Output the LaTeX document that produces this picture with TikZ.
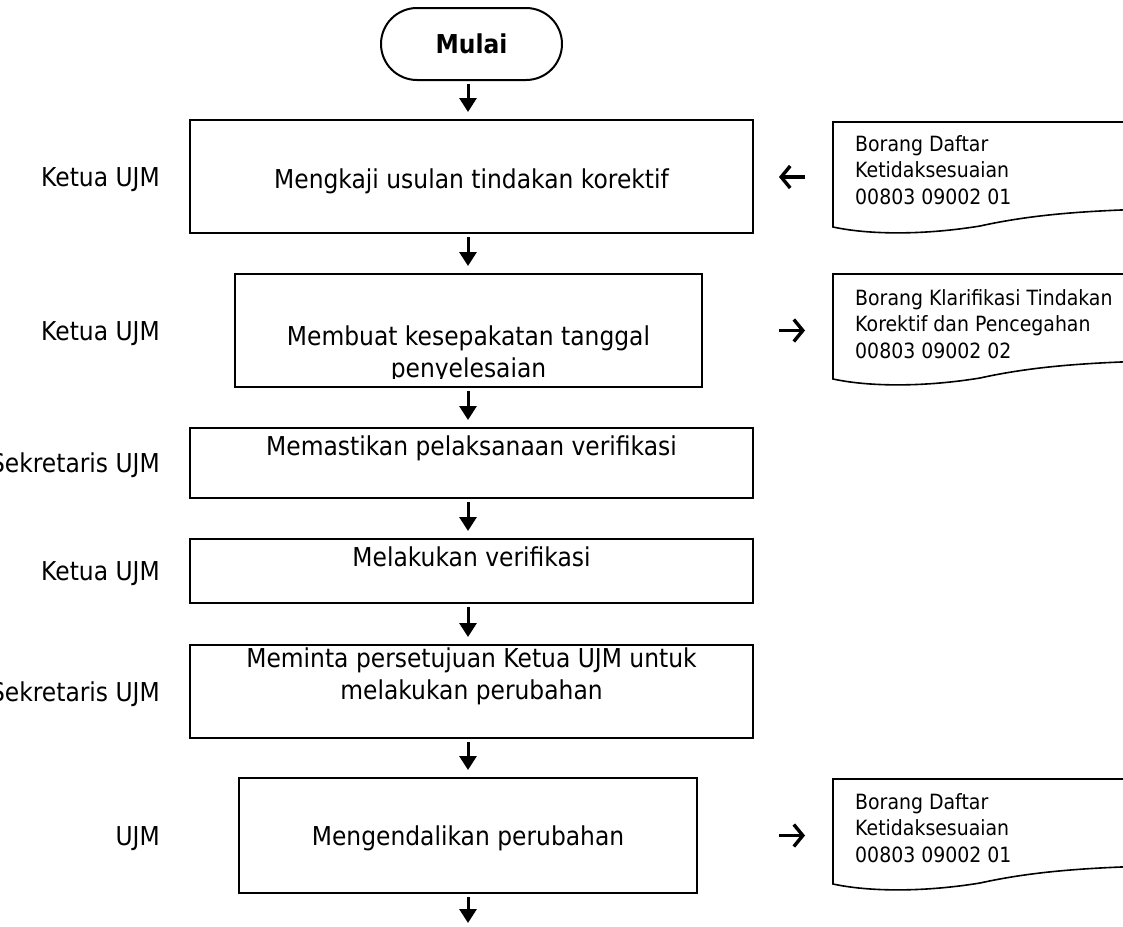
\documentclass[tikz,border=0pt]{standalone}
\usepackage{fontspec}
\setmainfont{DejaVu Sans}[FakeStretch=0.9]
\usetikzlibrary{arrows.meta}
\tikzset{
  wbox/.style={draw,line width=2pt,minimum width=563pt,inner sep=0pt},
  nbox/.style={draw,line width=2pt,minimum width=467pt,inner sep=0pt},
  terminal/.style={draw,line width=2pt,rounded corners=36pt,minimum width=181pt,minimum height=72pt,inner sep=0pt,font=\fontsize{26pt}{32pt}\selectfont\bfseries},
  txt/.style={anchor=base,align=center,inner sep=0pt,font=\fontsize{26pt}{32pt}\selectfont},
  who/.style={anchor=base east,inner sep=0pt,font=\fontsize{26pt}{32pt}\selectfont},
  doctxt/.style={anchor=base west,align=left,inner sep=0pt,font=\fontsize{21pt}{26.5pt}\selectfont},
  doc/.style={line width=1.6pt},
  flow/.style={line width=3pt,-{Triangle[length=14pt,width=17pt]},shorten <=3pt,shorten >=7pt},
  side/.style={line width=3.4pt,-{Straight Barb[length=9pt,width=22pt]}}
}
\begin{document}
\begin{tikzpicture}[x=1pt,y=-1pt]
  \useasboundingbox (0,0) rectangle (1123,926);
  \fill[white] (0,0) rectangle (1123,926);
  \clip (0,0) rectangle (1123,926);
  \coordinate (col) at (468,0);
  \coordinate (end) at (468,930);
  % langkah
  \node[terminal] (m) at (471.5,44) {Mulai};
  \node[wbox,minimum height=113pt] (k1) at (471.5,176.5) {};
  \node[nbox,minimum height=113pt] (k2) at (468.5,330.5) {};
  \node[wbox,minimum height=70pt] (k3) at (471.5,463) {};
  \node[wbox,minimum height=64pt] (k4) at (471.5,571) {};
  \node[wbox,minimum height=93pt] (k5) at (471.5,691.5) {};
  \node[nbox,minimum width=458pt,minimum height=115pt] (k6) at (468,835.5) {};
  \node[txt] (t1) at (471.5,188) {Mengkaji usulan tindakan korektif};
  \begin{scope}
    \clip (235,274) rectangle (702,378);
    \node[txt] (t2) at (468.5,377) {Membuat kesepakatan tanggal\\penyelesaian};
  \end{scope}
  \node[txt] (t3) at (471.5,455) {Memastikan pelaksanaan verifikasi};
  \node[txt] (t4) at (471.5,566) {Melakukan verifikasi};
  \node[txt] (t5) at (471.5,699) {Meminta persetujuan Ketua UJM untuk\\melakukan perubahan};
  \node[txt] (t6) at (468,845) {Mengendalikan perubahan};
  % pelaksana
  \node[who] (w1) at (160,186) {Ketua UJM};
  \node[who] (w2) at (160,340) {Ketua UJM};
  \node[who] (w3) at (160,472.5) {Sekretaris UJM};
  \node[who] (w4) at (160,580.5) {Ketua UJM};
  \node[who] (w5) at (160,701) {Sekretaris UJM};
  \node[who] (w6) at (160,845) {UJM};
  % borang
  \foreach \t/\n in {122/d1,274/d2,779/d3}{
    \draw[doc] (1150,\t) -- (833,\t) -- (833,\t+105)
      .. controls (870,\t+113) and (925,\t+113) .. (980,\t+104)
      .. controls (1030,\t+93) and (1080,\t+89) .. (1150,\t+87);
    \coordinate (\n) at (833,\t+55);
  }
  \node[doctxt] (b1) at (855,204) {Borang Daftar\\Ketidaksesuaian\\00803 09002 01};
  \node[doctxt] (b2) at (855,358) {Borang Klarifikasi Tindakan\\Korektif dan Pencegahan\\00803 09002 02};
  \node[doctxt] (b3) at (855,862) {Borang Daftar\\Ketidaksesuaian\\00803 09002 01};
  % alur
  \foreach \a/\b in {m/k1,k1/k2,k2/k3,k3/k4,k4/k5,k5/k6}
    \draw[flow] (\a.south -| col) -- (\b.north -| col);
  \draw[flow] (k6.south -| col) -- (end);
  \draw[side,shorten <=28pt,shorten >=25pt] (d1) -- (k1.east |- d1);
  \draw[side,shorten <=76pt,shorten >=28pt] (k2.east) -- (d2 |- k2.east);
  \draw[side,shorten <=81pt,shorten >=28pt] (k6.east) -- (d3 |- k6.east);
\end{tikzpicture}
\end{document}
